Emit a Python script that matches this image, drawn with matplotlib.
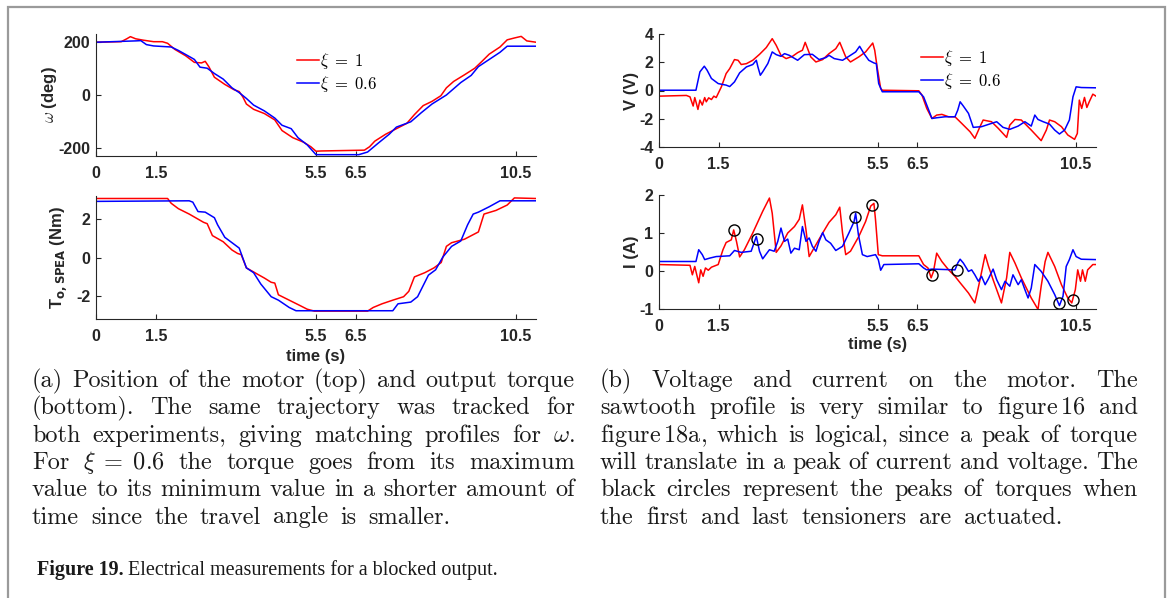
import matplotlib
matplotlib.use("Agg")
import matplotlib.pyplot as plt
from matplotlib.patches import Rectangle

W, H = 1168, 598
plt.rcParams["font.family"] = "Liberation Sans"
plt.rcParams["mathtext.fontset"] = "cm"
plt.rcParams["axes.unicode_minus"] = False

# %%
# Values
# motor position omega (deg)
pos_t_red = [0, 0.63, 0.77, 0.86, 0.99, 1.17, 1.44, 1.66, 1.79, 1.97, 2.24, 2.46, 2.64, 2.73, 2.82,
             2.96, 3.22, 3.45, 3.58, 3.67, 3.76, 3.94, 4.21, 4.47, 4.65, 4.92, 5.19, 5.37, 5.5, 5.63,
             6.71, 6.84, 6.97, 7.24, 7.51, 7.77, 7.96, 8.18, 8.40, 8.62, 8.76, 8.94, 9.21, 9.47, 9.65,
             9.83, 10.1, 10.28, 10.46, 10.63, 10.77, 11.0]
pos_red = [199, 201, 212, 220, 212, 207, 201, 201, 195, 172, 148, 123, 121, 127, 107,
           67, 40, 20, 13, -7, -34, -54, -70, -94, -134, -161, -178, -195, -212, -211,
           -208, -195, -174, -148, -127, -107, -74, -40, -24, -3, 27, 51, 76, 101, 127,
           154, 181, 208, 215, 221, 204, 199]
pos_t_blue = [0, 0.99, 1.12, 1.26, 1.44, 1.88, 2.06, 2.38, 2.46, 2.6, 2.78, 2.96, 3.18, 3.4, 3.58,
              3.76, 3.94, 4.21, 4.47, 4.65, 4.88, 5.05, 5.28, 5.5, 6.57, 6.79, 7.06, 7.33, 7.51, 7.87,
              8.13, 8.4, 8.76, 9.12, 9.38, 9.56, 9.83, 10.1, 10.28, 11.0]
pos_blue = [199, 204, 205, 190, 185, 181, 168, 141, 134, 105, 101, 81, 60, 27, 9,
            -13, -38, -60, -87, -114, -127, -161, -188, -225, -225, -215, -181, -148, -121, -101,
            -67, -34, 0, 47, 74, 107, 134, 161, 184, 184]

# output torque (Nm)
tq_t_red = [0, 1.79, 1.88, 2.06, 2.33, 2.69, 2.78, 2.91, 3.18, 3.4, 3.54, 3.63, 3.76, 4.03, 4.21,
            4.38, 4.47, 4.56, 4.83, 5.1, 5.28, 5.46, 6.79, 6.93, 7.15, 7.42, 7.69, 7.82, 7.96, 8.22,
            8.45, 8.63, 8.76, 8.89, 9.21, 9.56, 9.7, 10.0, 10.28, 10.46, 11.0]
tq_red = [3.07, 3.07, 2.82, 2.54, 2.26, 1.83, 1.76, 1.14, 0.82, 0.39, 0.21, 0.15, -0.54, -0.86, -1.07,
          -1.29, -1.33, -1.94, -2.22, -2.5, -2.69, -2.79, -2.79, -2.6, -2.41, -2.22, -2.04, -1.76, -1.01, -0.79,
          -0.54, -0.26, 0.58, 0.77, 0.95, 1.33, 2.26, 2.45, 2.73, 3.1, 3.07]
tq_t_blue = [0, 2.33, 2.42, 2.55, 2.73, 2.96, 3.04, 3.22, 3.4, 3.58, 3.76, 3.94, 4.12, 4.38, 4.56,
             4.83, 5.0, 7.42, 7.55, 7.87, 8.04, 8.31, 8.49, 8.67, 8.89, 9.12, 9.29, 9.43, 9.56, 9.83,
             10.1, 11.0]
tq_blue = [2.92, 2.95, 2.88, 2.39, 2.36, 2.07, 1.7, 1.05, 0.77, 0.49, -0.54, -0.79, -1.38, -2.04, -2.22,
           -2.6, -2.77, -2.77, -2.41, -2.32, -2.04, -0.92, -0.64, 0.02, 0.58, 0.86, 1.7, 2.26, 2.36, 2.64,
           2.95, 2.95]

# motor voltage (V)
v_t_red = [0, 0.69, 0.78, 0.86, 0.9, 0.94, 0.98, 1.03, 1.09, 1.15,
           1.19, 1.25, 1.32, 1.38, 1.44, 1.57, 1.69, 1.78, 1.9, 1.99,
           2.07, 2.2, 2.36, 2.53, 2.7, 2.85, 2.95, 3.07, 3.2, 3.36,
           3.49, 3.61, 3.68, 3.82, 3.95, 4.12, 4.28, 4.45, 4.55, 4.7,
           4.82, 5.03, 5.2, 5.38, 5.43, 5.49, 5.58, 5.62, 6.54, 6.62,
           6.74, 6.87, 6.99, 7.12, 7.29, 7.45, 7.62, 7.83, 7.95, 8.08,
           8.16, 8.37, 8.54, 8.75, 8.83, 8.96, 9.12, 9.37, 9.62, 9.75,
           9.83, 9.96, 10.13, 10.29, 10.46, 10.53, 10.58, 10.64, 10.71, 10.77,
           10.83, 10.92, 11.0]
v_red = [-0.4, -0.35, -0.45, -1.1, -0.5, -0.9, -1.34, -0.68, -1.03, -0.5,
         -0.8, -0.52, -0.64, -0.4, -0.5, 0.26, 1.2, 1.55, 2.19, 2.14,
         1.84, 1.9, 2.14, 2.56, 3.04, 3.67, 3.2, 2.49, 2.26, 2.42,
         2.68, 2.85, 3.41, 2.38, 2.02, 2.19, 2.61, 2.96, 3.41, 2.38,
         2.02, 2.38, 2.73, 3.36, 2.85, 1.67, 0.14, 0.02, -0.02, -0.33,
         -1.27, -1.98, -1.74, -1.69, -1.86, -1.86, -2.33, -2.92, -3.39, -2.56,
         -2.09, -2.21, -2.68, -3.32, -2.45, -2.05, -2.09, -2.8, -3.55, -2.8,
         -2.09, -2.21, -2.56, -3.15, -3.46, -3.04, -0.68, -1.27, -0.49, -1.2,
         -0.8, -0.26, -0.4]
v_t_blue = [0, 0.93, 1.03, 1.14, 1.21, 1.32, 1.49, 1.69, 1.78, 1.9,
            2.03, 2.2, 2.36, 2.45, 2.49, 2.55, 2.61, 2.74, 2.85, 2.95,
            3.07, 3.16, 3.28, 3.49, 3.66, 3.86, 4.03, 4.2, 4.28, 4.41,
            4.62, 4.78, 4.95, 5.05, 5.16, 5.28, 5.41, 5.47, 5.53, 5.62,
            6.54, 6.66, 6.79, 6.87, 6.99, 7.2, 7.45, 7.52, 7.58, 7.66,
            7.79, 7.91, 8.12, 8.37, 8.5, 8.66, 8.83, 9.04, 9.21, 9.37,
            9.46, 9.54, 9.67, 9.83, 9.96, 10.08, 10.21, 10.33, 10.42, 10.5,
            10.63, 11.0]
v_blue = [0.02, 0.02, 1.32, 1.72, 1.44, 0.85, 0.49, 0.38, 0.28, 0.61,
          1.25, 1.67, 1.84, 2.14, 1.67, 1.08, 1.32, 1.91, 2.73, 2.54,
          2.42, 2.61, 2.49, 2.14, 2.54, 2.56, 2.19, 2.33, 2.49, 2.26,
          2.14, 2.42, 2.73, 3.13, 2.61, 2.14, 1.95, 1.9, 0.49, -0.09,
          -0.09, -0.45, -1.39, -1.98, -1.93, -1.86, -1.86, -1.39, -0.8, -1.1,
          -1.62, -2.61, -2.56, -2.33, -2.21, -2.61, -2.75, -2.52, -2.21, -2.52,
          -1.74, -2.05, -2.21, -2.38, -2.8, -3.08, -2.8, -2.09, -0.45, 0.26,
          0.21, 0.19]

# motor current (A)
i_t_red = [0, 0.78, 0.84, 0.9, 0.96, 1.0, 1.05, 1.11, 1.17, 1.24,
           1.32, 1.49, 1.61, 1.69, 1.82, 1.88, 1.95, 2.03, 2.15, 2.36,
           2.61, 2.78, 2.85, 2.95, 3.07, 3.24, 3.41, 3.53, 3.61, 3.7,
           3.78, 3.95, 4.12, 4.28, 4.45, 4.55, 4.62, 4.7, 4.82, 5.03,
           5.2, 5.33, 5.41, 5.45, 5.52, 5.62, 6.54, 6.66, 6.77, 6.85,
           6.91, 6.99, 7.12, 7.29, 7.45, 7.58, 7.79, 7.95, 8.0, 8.08,
           8.21, 8.29, 8.41, 8.62, 8.75, 8.83, 8.96, 9.12, 9.37, 9.54,
           9.62, 9.72, 9.79, 9.96, 10.13, 10.29, 10.39, 10.48, 10.54, 10.61,
           10.66, 10.73, 10.79, 10.92, 11.0]
i_red = [0.17, 0.15, -0.1, 0.12, -0.14, -0.31, 0.03, -0.14, 0.08, 0.02,
         0.1, 0.17, 0.56, 0.75, 0.82, 1.08, 0.78, 0.37, 0.56, 1.0,
         1.57, 1.92, 1.52, 0.49, 0.66, 1.0, 1.17, 1.36, 1.74, 1.08,
         0.38, 0.69, 1.0, 1.28, 1.48, 1.68, 1.0, 0.43, 0.52, 0.91,
         1.3, 1.71, 1.78, 1.35, 0.43, 0.4, 0.4, 0.17, 0.08, -0.18,
         -0.01, 0.47, 0.25, 0.03, -0.14, -0.31, -0.58, -0.84, -0.62, -0.23,
         0.43, 0.14, -0.23, -0.84, -0.18, 0.49, 0.21, -0.18, -0.71, -1.01,
         -0.4, 0.25, 0.49, 0.12, -0.36, -0.71, -0.84, -0.49, 0.03, -0.27,
         0.03, -0.27, 0.03, 0.17, 0.17]
i_t_blue = [0, 0.93, 1.0, 1.09, 1.15, 1.28, 1.44, 1.78, 1.9, 2.07,
            2.32, 2.45, 2.53, 2.61, 2.78, 2.9, 2.99, 3.07, 3.16, 3.24,
            3.32, 3.41, 3.53, 3.61, 3.7, 3.78, 3.86, 3.95, 4.03, 4.12,
            4.2, 4.32, 4.45, 4.62, 4.78, 4.91, 4.95, 5.02, 5.12, 5.24,
            5.45, 5.52, 5.58, 5.66, 6.54, 6.66, 6.74, 6.87, 7.45, 7.52,
            7.58, 7.66, 7.79, 7.87, 7.95, 8.04, 8.12, 8.21, 8.29, 8.41,
            8.5, 8.62, 8.71, 8.83, 8.91, 9.04, 9.12, 9.21, 9.29, 9.37,
            9.46, 9.62, 9.79, 9.96, 10.08, 10.17, 10.25, 10.33, 10.42, 10.5,
            10.63, 11.0]
i_blue = [0.25, 0.25, 0.56, 0.43, 0.3, 0.34, 0.38, 0.4, 0.54, 0.49,
          0.52, 0.91, 0.52, 0.32, 0.56, 0.52, 0.78, 1.13, 0.78, 0.84,
          0.47, 0.6, 0.56, 1.17, 0.78, 0.87, 0.65, 0.52, 0.78, 1.01,
          0.82, 0.73, 0.54, 0.65, 1.0, 1.3, 1.52, 0.95, 0.43, 0.38,
          0.43, 0.3, 0.02, 0.17, 0.19, 0.08, 0.03, 0.05, 0.03, 0.21,
          0.31, 0.21, -0.01, 0.03, -0.1, -0.27, -0.14, -0.36, -0.21, 0.05,
          -0.23, -0.49, -0.27, -0.4, -0.1, -0.36, -0.23, -0.49, -0.71, -0.45,
          0.17, -0.01, -0.27, -0.62, -0.91, -0.66, 0.12, 0.3, 0.56, 0.38,
          0.31, 0.3]

# peaks of torque (black circles)
circ_t = [1.88, 2.46, 4.93, 5.35, 6.87, 7.5, 10.06, 10.42]
circ_i = [1.07, 0.85, 1.43, 1.73, -0.1, 0.02, -0.84, -0.77]

time_ticks = [0, 1.5, 5.5, 6.5, 10.5]
time_labels = ["0", "1.5", "5.5", "6.5", "10.5"]
legend_labels = [r"$\xi\;=\;1$", r"$\xi\;=\;0.6$"]

caption_a = [
    "(a) Position of the motor (top) and output torque",
    "(bottom).  The same trajectory was tracked for",
    r"both experiments, giving matching profiles for $\omega$.",
    r"For $\xi\;=\;0.6$ the torque goes from its maximum",
    "value to its minimum value in a shorter amount of",
    "time since the travel angle is smaller.",
]
caption_b = [
    "(b) Voltage and current on the motor.  The",
    r"sawtooth profile is very similar to figure$\,$16 and",
    r"figure$\,$18a, which is logical, since a peak of torque",
    "will translate in a peak of current and voltage. The",
    "black circles represent the peaks of torques when",
    "the first and last tensioners are actuated.",
]

# %%
RED = "#ff0000"
BLUE = "#0000ff"
DARK = "#262626"

fig = plt.figure(figsize=(W / 100, H / 100), dpi=100)


def make_axes(left, top, right, bottom, ylim, yticks):
    ax = fig.add_axes([left / W, 1 - bottom / H, (right - left) / W, (bottom - top) / H])
    ax.spines[["top", "right"]].set_visible(False)
    for s in ax.spines.values():
        s.set_color(DARK)
        s.set_linewidth(0.8)
    ax.tick_params(direction="in", length=3.5, width=0.8, colors=DARK, labelsize=11.5)
    ax.tick_params(axis="x", pad=7)
    ax.tick_params(axis="y", pad=4)
    ax.set_xlim(0, 11)
    ax.set_ylim(*ylim)
    ax.set_xticks(time_ticks, time_labels, fontweight="bold")
    ax.set_yticks(yticks, [str(v) for v in yticks], fontweight="bold")
    return ax


ax1 = make_axes(96, 34, 536, 156, (-230, 230), [-200, 0, 200])
ax2 = make_axes(96, 196, 536, 319, (-3.2, 3.2), [-2, 0, 2])
ax3 = make_axes(659, 34, 1096, 147, (-4, 4), [-4, -2, 0, 2, 4])
ax4 = make_axes(659, 195, 1096, 309, (-1, 2), [-1, 0, 1, 2])

lw = 1.1
ax1.plot(pos_t_red, pos_red, color=RED, lw=lw)
ax1.plot(pos_t_blue, pos_blue, color=BLUE, lw=lw)
ax2.plot(tq_t_red, tq_red, color=RED, lw=lw)
ax2.plot(tq_t_blue, tq_blue, color=BLUE, lw=lw)
ax3.plot(v_t_red, v_red, color=RED, lw=lw)
ax3.plot(v_t_blue, v_blue, color=BLUE, lw=lw)
ax4.plot(i_t_red, i_red, color=RED, lw=lw)
ax4.plot(i_t_blue, i_blue, color=BLUE, lw=lw)
ax4.plot(circ_t, circ_i, "o", mfc="none", mec="black", ms=8, mew=1.0)

# axis labels
lab = dict(fontsize=12, fontweight="bold", color=DARK)
ax1.set_ylabel(r"$\omega$ (deg)", **lab)
ax1.yaxis.set_label_coords((59 - 96) / 440, 0.5)
ax2.set_ylabel(r"T$_{\mathbf{o,SPEA}}$ (Nm)", math_fontfamily="dejavusans", **lab)
ax2.yaxis.set_label_coords((69 - 96) / 440, 0.5)
ax3.set_ylabel("V (V)", **lab)
ax3.yaxis.set_label_coords((639 - 659) / 437, 0.5)
ax4.set_ylabel("I (A)", **lab)
ax4.yaxis.set_label_coords((639 - 659) / 437, 0.5)
ax2.set_xlabel("time (s)", **lab)
ax2.xaxis.set_label_coords(0.5, -(349 - 319) / 123)
ax4.set_xlabel("time (s)", **lab)
ax4.xaxis.set_label_coords(0.5, -(337 - 309) / 114)

# legends
leg = dict(loc="upper left", bbox_transform=fig.transFigure, frameon=False, fontsize=12,
           handlelength=1.3, handletextpad=0.1, borderpad=0, borderaxespad=0, labelspacing=0.2)
ax1.legend(ax1.lines[:2], legend_labels, bbox_to_anchor=(297 / W, 1 - 51 / H), **leg)
ax3.legend(ax3.lines[:2], legend_labels, bbox_to_anchor=(921 / W, 1 - 48 / H), **leg)

# %%
# captions (justified by hand)
renderer = fig.canvas.get_renderer()
cap_size = 17.5


def put_paragraph(lines, x0, x1, y_first, dy):
    gaps = []
    for k, line in enumerate(lines):
        words = line.split()
        yb = 1 - (y_first + k * dy) / H
        items = [fig.text(0, yb, w, fontsize=cap_size, family="cmr10", va="baseline",
                          color="#1a1a1a") for w in words]
        widths = [t.get_window_extent(renderer).width for t in items]
        if k == len(lines) - 1:
            gap = sum(gaps) / len(gaps)
        else:
            gap = (x1 - x0 - sum(widths)) / (len(words) - 1)
            gaps.append(gap)
        x = x0
        for t, w in zip(items, widths):
            t.set_x(x / W)
            x += w + gap


put_paragraph(caption_a, 32, 575, 387, 27.3)
put_paragraph(caption_b, 600, 1138, 387, 27.3)

t_fig = fig.text(37 / W, 1 - 575 / H, "Figure 19.", family="Liberation Serif",
                 fontweight="bold", fontsize=14.5, va="baseline", color="#1a1a1a")
wf = t_fig.get_window_extent(renderer).width
fig.text((37 + wf + 4) / W, 1 - 575 / H, "Electrical measurements for a blocked output.",
         family="Liberation Serif", fontsize=14.5, va="baseline", color="#1a1a1a")

# gray frame around the figure
fig.add_artist(Rectangle((8 / W, -0.05), (1165 - 8) / W, 1.05 - 7 / H, transform=fig.transFigure,
                         facecolor="none", edgecolor="#9a9a9a", lw=1.6))

fig.savefig("out.png", dpi=100)
